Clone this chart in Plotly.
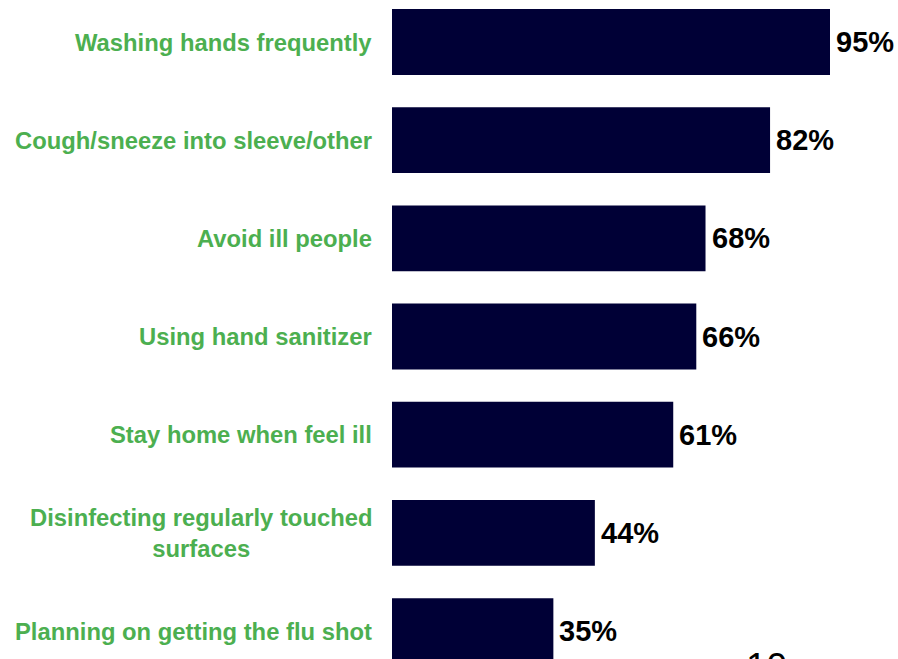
import plotly.graph_objects as go

categories = [
    "Washing hands frequently",
    "Cough/sneeze into sleeve/other",
    "Avoid ill people",
    "Using hand sanitizer",
    "Stay home when feel ill",
    "Disinfecting regularly touched<br>surfaces",
    "Planning on getting the flu shot",
]
values = [95, 82, 68, 66, 61, 44, 35]
value_labels = [f"{v}%" for v in values]
page_number = "10"

BAR = "#000036"
GREEN = "#4CAF50"
FONT = "Liberation Sans, Arial, sans-serif"

W, H = 898, 659
ML = 392
px_per_unit = (830 - 392) / 95.0
xmax = (W - ML) / px_per_unit
pitch = 98.17
top_c = 42
y_top = -top_c / pitch
y_bot = (H - top_c) / pitch

ypos = list(range(len(categories)))

fig = go.Figure()
fig.add_trace(go.Bar(
    x=values,
    y=ypos,
    orientation="h",
    marker=dict(color=BAR, line=dict(width=0)),
    hoverinfo="skip",
))

for i, (v, t) in enumerate(zip(values, value_labels)):
    fig.add_annotation(
        x=v, y=i, xref="x", yref="y",
        text=f"<b>{t}</b>",
        showarrow=False,
        xanchor="left", yanchor="middle",
        xshift=4,
        font=dict(family=FONT, size=29, color="black"),
    )

for i, c in enumerate(categories):
    fig.add_annotation(
        x=0, y=i, xref="x", yref="y",
        text=f"<b>{c}</b>",
        showarrow=False,
        xanchor="right", yanchor="middle",
        align="center",
        xshift=-18,
        font=dict(family=FONT, size=23.8, color=GREEN),
    )

fig.add_annotation(
    x=(766 - ML) / (W - ML), y=1 - 644 / H, xref="paper", yref="paper",
    text=page_number, showarrow=False,
    xanchor="center", yanchor="top",
    font=dict(family=FONT, size=37, color="black"),
)

fig.update_layout(
    width=W, height=H,
    margin=dict(l=ML, r=0, t=0, b=0),
    paper_bgcolor="white", plot_bgcolor="white",
    bargap=0.33,
    showlegend=False,
    hovermode=False,
    xaxis=dict(range=[0, xmax], visible=False, fixedrange=True),
    yaxis=dict(range=[y_bot, y_top], visible=False, fixedrange=True),
)

fig.write_html(
    "out.html",
    config={"displayModeBar": False, "staticPlot": True},
    post_script="document.body.style.margin='0';document.body.style.overflow='hidden';",
)
